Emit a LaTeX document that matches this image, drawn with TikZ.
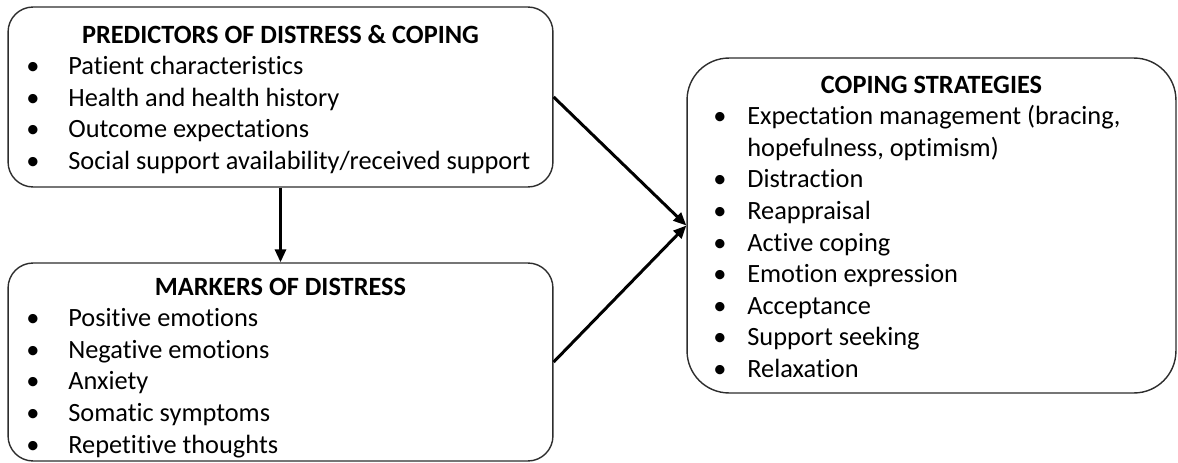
\documentclass[tikz,border=0pt]{standalone}
\usepackage{fontspec}
\setmainfont{Carlito}[Ligatures=NoCommon]
\usetikzlibrary{arrows.meta,positioning}
\definecolor{boxline}{RGB}{45,45,45}
\newcommand{\blt}[1][0.84cm]{\makebox[#1][l]{\textbullet}}

\begin{document}
\begin{tikzpicture}[x=0.02cm, y=-0.02cm,
  box/.style={draw=boxline, line width=0.8pt, rounded corners=0.5cm, inner sep=0pt},
  head/.style={font={\fontsize{15pt}{18pt}\selectfont\bfseries}, anchor=base, inner sep=0pt},
  item/.style={font={\fontsize{15pt}{18pt}\selectfont}, anchor=base west, inner sep=0pt},
  arr/.style={line width=1.7pt, -{Triangle[length=0.26cm, width=0.22cm]}}]
  \useasboundingbox (0,0) rectangle (1178,463);

  % Boxes
  \node[box, minimum width=10.9cm, minimum height=3.6cm] (pred) at (280.5,97) {};
  \node[box, minimum width=10.9cm, minimum height=3.96cm] (mark) at (280.5,362) {};
  \node[box, rounded corners=0.84cm, minimum width=9.78cm, minimum height=6.7cm] (cope) at (931.5,225.5) {};

  % Predictors
  \node[head] (pred-t) at (280.5,43) {PREDICTORS OF DISTRESS \& COPING};
  \foreach \t [count=\i] in {Patient characteristics, Health and health history,
      Outcome expectations, Social support availability/received support}{
    \node[item] (pred-\i) at (26,43+31.6*\i) {\blt\t};
  }

  % Markers
  \node[head] (mark-t) at (280.5,295) {MARKERS OF DISTRESS};
  \foreach \t [count=\i] in {Positive emotions, Negative emotions, Anxiety,
      Somatic symptoms, Repetitive thoughts}{
    \node[item] (mark-\i) at (26,295+31.6*\i) {\blt\t};
  }

  % Coping strategies
  \node[head] (cope-t) at (931.5,93) {COPING STRATEGIES};
  \foreach \t [count=\i] in {{\blt[0.68cm]Expectation management (bracing,},
      {\hspace*{0.68cm}hopefulness, optimism)}, {\blt[0.68cm]Distraction},
      {\blt[0.68cm]Reappraisal}, {\blt[0.68cm]Active coping},
      {\blt[0.68cm]Emotion expression}, {\blt[0.68cm]Acceptance},
      {\blt[0.68cm]Support seeking}, {\blt[0.68cm]Relaxation}}{
    \node[item] (cope-\i) at (713,93+31.6*\i) {\t};
  }

  % Arrows
  \draw[arr] (pred) -- (mark);
  \draw[arr] (pred.east) -- (cope.west);
  \draw[arr] (mark.east) -- (cope.west);
\end{tikzpicture}
\end{document}
